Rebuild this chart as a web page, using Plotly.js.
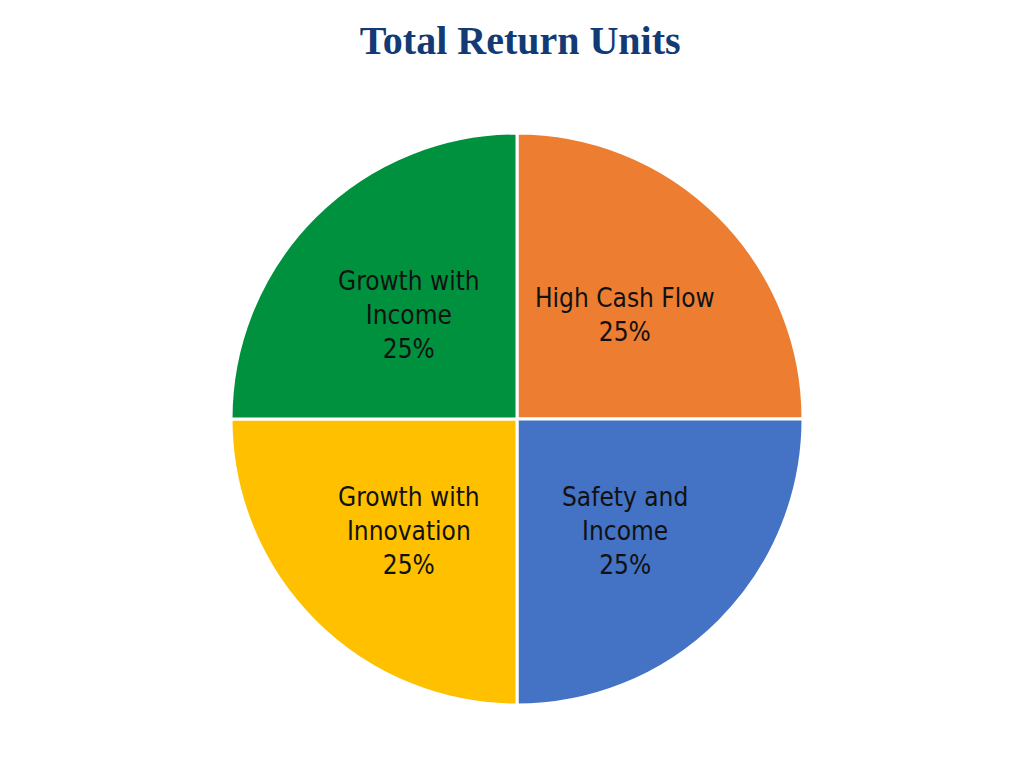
<!DOCTYPE html>
<html>
<head>
<meta charset="utf-8">
<script src="https://cdn.plot.ly/plotly-3.0.1.min.js"></script>
<style>html,body{margin:0;padding:0;background:#fff}#chart{width:1024px;height:768px}</style>
</head>
<body>
<div id="chart"></div>
<script>
const categories = ["High Cash Flow", "Safety and Income", "Growth with Innovation", "Growth with Income"];
const labelText = ["High Cash Flow", "Safety and<br>Income", "Growth with<br>Innovation", "Growth with<br>Income"];
const values = [25, 25, 25, 25];
const colors = ["#ED7D31", "#4472C4", "#FFC000", "#00913F"];

const W = 1024, H = 768;
const domX = [0.2256, 0.7842], domY = [0.082, 0.8268];

const trace = {
  type: "pie",
  labels: categories,
  values: values,
  sort: false,
  direction: "clockwise",
  rotation: 0,
  textinfo: "none",
  marker: {colors: colors, line: {color: "#ffffff", width: 3}},
  domain: {x: domX, y: domY},
  hoverinfo: "label+percent"
};

// label placement derived from slice angles
const total = values.reduce((a, b) => a + b, 0);
const cx = (domX[0] + domX[1]) / 2, cy = (domY[0] + domY[1]) / 2;
const Rpx = Math.min((domX[1] - domX[0]) * W, (domY[1] - domY[0]) * H) / 2;
const rLab = 0.535 * Rpx;
let cum = 0;
const annotations = values.map((v, i) => {
  const th = (cum + v / 2) / total * 2 * Math.PI;
  cum += v;
  const pct = Math.round(v / total * 100) + "%";
  return {
    xref: "paper", yref: "paper",
    x: cx + Math.sin(th) * rLab / W,
    y: cy + Math.cos(th) * rLab / H,
    xanchor: "center", yanchor: "middle", yshift: -4,
    text: labelText[i] + "<br>" + pct,
    showarrow: false,
    font: {family: "DejaVu Sans Condensed", size: 26, color: "#111111"}
  };
});

const layout = {
  width: W,
  height: H,
  margin: {l: 0, r: 0, t: 0, b: 0},
  paper_bgcolor: "#ffffff",
  showlegend: false,
  annotations: annotations,
  title: {
    text: "<b>Total Return Units</b>",
    font: {family: "Liberation Serif", size: 40, color: "#123A75"},
    x: 0.508, xanchor: "center", y: 0.948, yanchor: "middle"
  }
};

Plotly.newPlot("chart", [trace], layout, {displayModeBar: false, staticPlot: true});
</script>
</body>
</html>
